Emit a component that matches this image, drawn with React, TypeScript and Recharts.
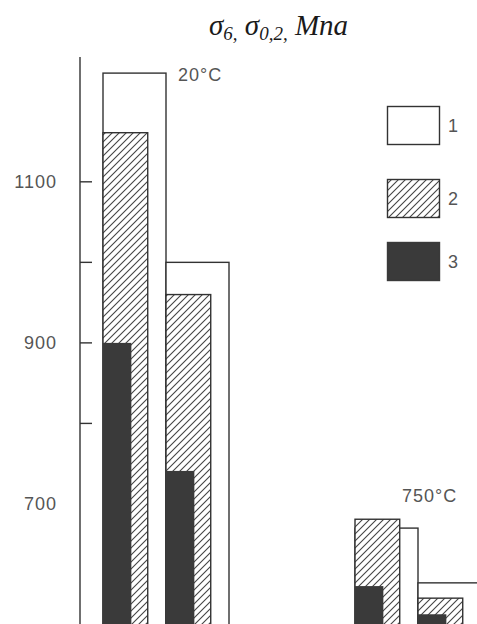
import { BarChart, Bar, XAxis, YAxis, LabelList } from 'recharts';

// bar positions along the axis (two empty slots separate the temperature groups)
const categories = ['20-a', '20-b', 'gap-1', 'gap-2', '750-a', '750-b'];
const tempLabels = ['20°C', '', '', '', '750°C', ''];

// series 1 (outline), 2 (hatched), 3 (solid), MPa
const series1 = [1235, 1000, null, null, 670, 602];
const series2 = [1161, 960, null, null, 681, 583];
const series3 = [900, 741, null, null, 598, 563];

const yTicks = [700, 800, 900, 1000, 1100];
const yLabelled = [700, 900, 1100];
const yTickMarks = [800, 900, 1000, 1100];
const legendNames = ['1', '2', '3'];

const data = categories.map((name, i) => ({
  name,
  temp: tempLabels[i],
  s1: series1[i],
  s2: series2[i],
  s3: series3[i],
}));

const INK = '#333';
const GREY_TEXT = '#555';
const SOLID = '#3a3a3a';
const TICK_MARGIN = 23;

const fills = ['#fff', 'url(#hatch)', SOLID];
const widthFrac = [1, 0.71, 0.45];

const makeShape = (i: number) => (props: any) => {
  const { x, y, width, height } = props;
  if (!width || !height || height <= 0) return null;
  return (
    <rect
      x={x}
      y={y}
      width={width * widthFrac[i]}
      height={height}
      fill={fills[i]}
      stroke={i === 2 ? 'none' : INK}
      strokeWidth={1.4}
    />
  );
};

// where each temperature label sits relative to the top right corner of its bar
const labelPlacement: Record<string, { dx: number; dy: number }> = {
  '20°C': { dx: 12, dy: 8 },
  '750°C': { dx: -16, dy: -26 },
};

const TempLabel = (props: any) => {
  const { x, y, width, value } = props;
  if (!value) return null;
  const p = labelPlacement[value] || { dx: 8, dy: -8 };
  return (
    <text
      x={x + width + p.dx}
      y={y + p.dy}
      fill={GREY_TEXT}
      fontSize={18}
      letterSpacing={1}
      fontFamily='"Liberation Sans", Arial, sans-serif'
    >
      {value}
    </text>
  );
};

const YTick = (props: any) => {
  const { x, y, payload } = props;
  const v = payload.value;
  const axisX = x + TICK_MARGIN;
  return (
    <g>
      {yTickMarks.includes(v) && (
        <line x1={axisX} x2={axisX + 12} y1={y} y2={y} stroke={INK} strokeWidth={1.4} />
      )}
      {yLabelled.includes(v) && (
        <text
          x={x}
          y={y}
          dy={6}
          textAnchor="end"
          fill={GREY_TEXT}
          fontSize={18}
          letterSpacing={1}
          fontFamily='"Liberation Sans", Arial, sans-serif'
        >
          {v}
        </text>
      )}
    </g>
  );
};

function Legend() {
  const tops = [6, 79, 142];
  return (
    <svg
      width={90}
      height={200}
      style={{ position: 'absolute', left: 380, top: 100 }}
    >
      <defs>
        <pattern id="hatchLegend" width="7" height="7" patternUnits="userSpaceOnUse">
          <rect width="7" height="7" fill="#fff" />
          <path d="M0,7 L7,0 M-1,1 L1,-1 M6,8 L8,6" stroke="#444" strokeWidth={1.1} />
        </pattern>
      </defs>
      {legendNames.map((name, i) => {
        const top = tops[i];
        const fill = i === 1 ? 'url(#hatchLegend)' : fills[i];
        return (
          <g key={name}>
            <rect
              x={7.5}
              y={top + 0.5}
              width={52}
              height={38}
              fill={fill}
              stroke={i === 2 ? SOLID : INK}
              strokeWidth={1.4}
            />
            <text
              x={68}
              y={top + 26}
              fill={GREY_TEXT}
              fontSize={18}
              fontFamily='"Liberation Sans", Arial, sans-serif'
            >
              {name}
            </text>
          </g>
        );
      })}
    </svg>
  );
}

export default function App() {
  return (
    <div
      style={{
        position: 'fixed',
        left: 0,
        top: 0,
        width: 477,
        height: 624,
        overflow: 'hidden',
        background: '#fff',
      }}
    >
      <div
        style={{
          position: 'absolute',
          left: 209,
          top: 8,
          fontFamily: '"Liberation Serif", "Times New Roman", serif',
          fontStyle: 'italic',
          fontSize: 29,
          lineHeight: '34px',
          color: '#1a1a1a',
          whiteSpace: 'nowrap',
        }}
      >
        σ<sub style={{ fontSize: 19, verticalAlign: '-5px' }}>6,</sub> σ
        <sub style={{ fontSize: 19, verticalAlign: '-5px' }}>0,2,</sub> Mna
      </div>

      <BarChart
        width={490}
        height={680}
        data={data}
        margin={{ top: 57, right: 9, bottom: 15, left: 0 }}
        barCategoryGap={0}
        barGap={0}
      >
        <defs>
          <pattern id="hatch" width="7" height="7" patternUnits="userSpaceOnUse">
            <rect width="7" height="7" fill="#fff" />
            <path d="M0,7 L7,0 M-1,1 L1,-1 M6,8 L8,6" stroke="#444" strokeWidth={1.1} />
          </pattern>
        </defs>
        <XAxis xAxisId="a" dataKey="name" hide height={0} padding={{ left: 23, right: 0 }} />
        <XAxis xAxisId="b" dataKey="name" hide height={0} padding={{ left: 23, right: 0 }} />
        <XAxis xAxisId="c" dataKey="name" hide height={0} padding={{ left: 23, right: 0 }} />
        <YAxis
          type="number"
          domain={[500, 1255]}
          ticks={yTicks}
          allowDataOverflow
          width={80}
          tickSize={0}
          tickMargin={TICK_MARGIN}
          tickLine={false}
          axisLine={{ stroke: INK, strokeWidth: 1.4 }}
          tick={<YTick />}
        />
        <Bar xAxisId="a" dataKey="s1" shape={makeShape(0)} isAnimationActive={false}>
          <LabelList dataKey="temp" content={<TempLabel />} />
        </Bar>
        <Bar xAxisId="b" dataKey="s2" shape={makeShape(1)} isAnimationActive={false} />
        <Bar xAxisId="c" dataKey="s3" shape={makeShape(2)} isAnimationActive={false} />
      </BarChart>

      <Legend />
    </div>
  );
}
